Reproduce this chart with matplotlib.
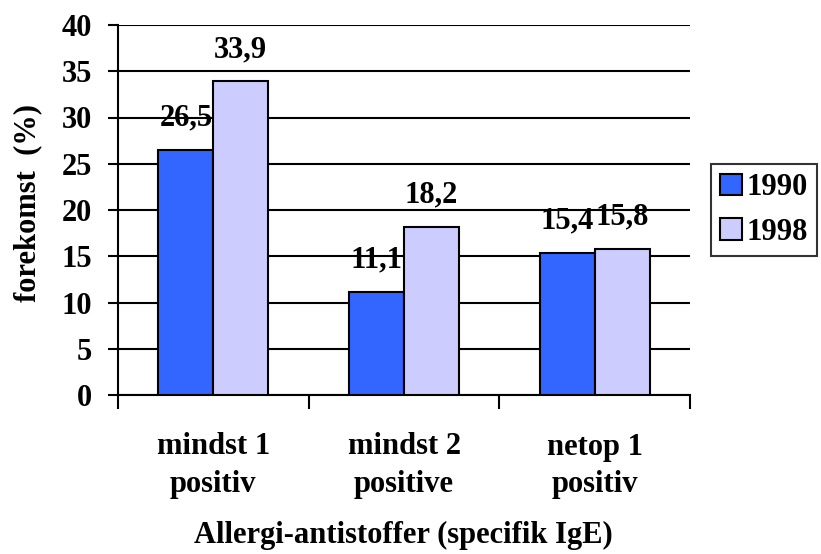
import matplotlib
matplotlib.use("Agg")
import matplotlib.pyplot as plt
import numpy as np

categories = ["mindst 1\npositiv", "mindst 2\npositive", "netop 1\npositiv"]
series_names = ["1990", "1998"]
values_1990 = [26.5, 11.1, 15.4]
values_1998 = [33.9, 18.2, 15.8]
labels_1990 = ["26,5", "11,1", "15,4"]
labels_1998 = ["33,9", "18,2", "15,8"]
yticks = [0, 5, 10, 15, 20, 25, 30, 35, 40]

plt.rcParams['font.family'] = ['Liberation Serif', 'DejaVu Serif']
plt.rcParams['font.weight'] = 'bold'

FS = 22
W, H = 821, 554
fig = plt.figure(figsize=(W/100, H/100), dpi=100)
ax = fig.add_axes([118/W, 1-395/H, (690-118)/W, (395-25)/H])

x = np.arange(len(categories))
bw = 0.288
c1 = '#3366FF'
c2 = '#CCCCFF'
b1 = ax.bar(x - bw/2, values_1990, bw, color=c1, edgecolor='black', linewidth=1.5, label=series_names[0], zorder=3)
b2 = ax.bar(x + bw/2, values_1998, bw, color=c2, edgecolor='black', linewidth=1.5, label=series_names[1], zorder=3)

for xi, v, t in zip(x - bw/2, values_1990, labels_1990):
    ax.annotate(t, (xi, v), xytext=(0, 23), textcoords='offset points', ha='center', va='center',
                fontsize=FS, fontweight='bold', zorder=5)
for xi, v, t in zip(x + bw/2, values_1998, labels_1998):
    ax.annotate(t, (xi, v), xytext=(0, 23), textcoords='offset points', ha='center', va='center',
                fontsize=FS, fontweight='bold', zorder=5)

ax.set_xlim(-0.5, 2.5)
ax.set_ylim(0, 40)
ax.set_yticks(yticks)
ax.set_yticklabels([str(t) for t in yticks], fontsize=FS, fontweight='bold')
ax.yaxis.grid(True, color='black', linewidth=1.5, zorder=0)
ax.set_axisbelow(True)

ax.set_xticks([-0.5, 0.5, 1.5, 2.5])
ax.set_xticklabels([])
ax.set_xticks(x, minor=True)
ax.set_xticklabels(categories, minor=True, fontsize=FS, fontweight='bold', linespacing=1.4)
ax.tick_params(axis='x', which='minor', length=0, pad=27)
ax.tick_params(axis='x', which='major', length=10, width=1.5, direction='out')
ax.tick_params(axis='y', length=7.5, width=1.5, direction='out', pad=11)

for s in ['top', 'right']:
    ax.spines[s].set_visible(False)
ax.spines['left'].set_linewidth(1.5)
ax.spines['bottom'].set_linewidth(1.5)

fig.text(28/W, 1-203/H, "forekomst  (%)", rotation=90, ha='center', va='center',
         fontsize=FS, fontweight='bold')
fig.text(403/W, 1-535/H, "Allergi-antistoffer (specifik IgE)", ha='center', va='center',
         fontsize=FS, fontweight='bold')

leg = fig.legend(handles=[b1, b2], labels=series_names, loc='center left',
                 bbox_to_anchor=(711/W, 1-210/H), frameon=True, fancybox=False,
                 edgecolor='black', fontsize=FS, handlelength=0.7, handleheight=0.7,
                 handletextpad=0.15, borderpad=0.3, labelspacing=0.5, borderaxespad=0)
leg.get_frame().set_linewidth(1.5)
for t in leg.get_texts():
    t.set_fontweight('bold')

fig.savefig("out.png", dpi=100)
